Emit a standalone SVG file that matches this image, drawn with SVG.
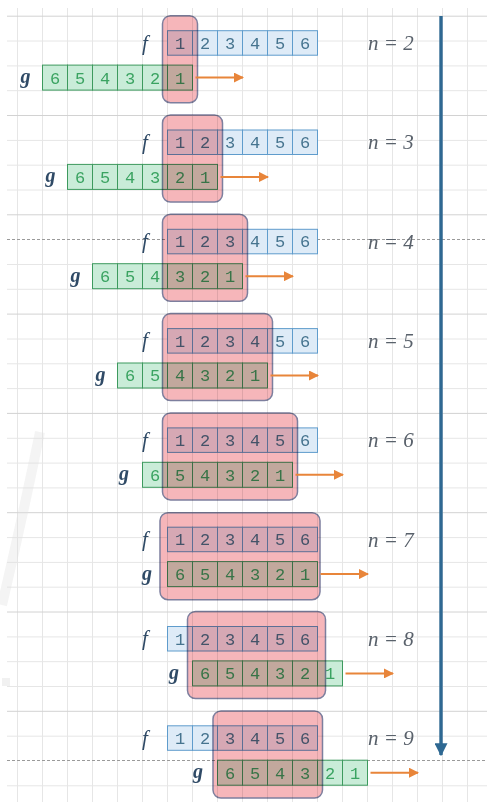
<svg xmlns="http://www.w3.org/2000/svg" width="487" height="802" viewBox="0 0 487 802">
<defs>
<style>
.gl{stroke:#e6e6e6;stroke-width:1}
.gd{stroke:#d2d2d2;stroke-width:1}
.dash{stroke:#9a9a9a;stroke-width:1;stroke-dasharray:3 2}
.fc{fill:#deebf7;stroke:#5f9ccc;stroke-width:1}
.gc{fill:#c9ecd8;stroke:#3d9a5e;stroke-width:1}
.ft{font-family:"Liberation Mono","DejaVu Sans Mono",monospace;font-size:17px;fill:#46748f;text-anchor:middle}
.gt{font-family:"Liberation Mono","DejaVu Sans Mono",monospace;font-size:17px;fill:#3aa361;text-anchor:middle}
.box{fill:#f6b6ba;stroke:#7d7f9e;stroke-width:1.5;mix-blend-mode:multiply}
.lf{font-family:"Liberation Serif","DejaVu Serif",serif;font-style:italic;font-size:21px;fill:#2f4a66;text-anchor:middle}
.lg{font-family:"Liberation Serif","DejaVu Serif",serif;font-style:italic;font-weight:bold;font-size:20px;fill:#2f4a66;text-anchor:middle}
.ln{font-family:"Liberation Serif","DejaVu Serif",serif;font-style:italic;font-size:21px;fill:#59616b}
.oa{stroke:#e8853a;stroke-width:2;fill:none}
</style>
<marker id="oh" viewBox="0 0 10 10" refX="9" refY="5" markerWidth="10" markerHeight="10" markerUnits="userSpaceOnUse" orient="auto"><path d="M0,0 L10,5 L0,10 z" fill="#e8853a"/></marker>
<marker id="bh" viewBox="0 0 10 10" refX="9" refY="5" markerWidth="13" markerHeight="13" markerUnits="userSpaceOnUse" orient="auto"><path d="M0,0 L10,5 L0,10 z" fill="#2e6892"/></marker>
</defs>
<rect x="0" y="0" width="487" height="802" fill="#ffffff"/>
<g id="grid">
<line class="gl" x1="17.5" y1="8" x2="17.5" y2="802"/><line class="gl" x1="42.5" y1="8" x2="42.5" y2="802"/><line class="gl" x1="67.5" y1="8" x2="67.5" y2="802"/><line class="gl" x1="92.5" y1="8" x2="92.5" y2="802"/><line class="gl" x1="117.5" y1="8" x2="117.5" y2="802"/><line class="gl" x1="142.5" y1="8" x2="142.5" y2="802"/><line class="gl" x1="167.5" y1="8" x2="167.5" y2="802"/><line class="gl" x1="192.5" y1="8" x2="192.5" y2="802"/><line class="gl" x1="217.5" y1="8" x2="217.5" y2="802"/><line class="gl" x1="242.5" y1="8" x2="242.5" y2="802"/><line class="gl" x1="267.5" y1="8" x2="267.5" y2="802"/><line class="gl" x1="292.5" y1="8" x2="292.5" y2="802"/><line class="gl" x1="317.5" y1="8" x2="317.5" y2="802"/><line class="gl" x1="342.5" y1="8" x2="342.5" y2="802"/><line class="gl" x1="367.5" y1="8" x2="367.5" y2="802"/><line class="gl" x1="392.5" y1="8" x2="392.5" y2="802"/><line class="gl" x1="417.5" y1="8" x2="417.5" y2="802"/><line class="gl" x1="442.5" y1="8" x2="442.5" y2="802"/><line class="gl" x1="467.5" y1="8" x2="467.5" y2="802"/>
<line class="gd" x1="7" y1="16.2" x2="487" y2="16.2"/><line class="gl" x1="7" y1="41" x2="487" y2="41"/><line class="gl" x1="7" y1="65.9" x2="487" y2="65.9"/><line class="gl" x1="7" y1="90.7" x2="487" y2="90.7"/>
<line class="gd" x1="7" y1="115.5" x2="487" y2="115.5"/><line class="gl" x1="7" y1="140.4" x2="487" y2="140.4"/><line class="gl" x1="7" y1="165.2" x2="487" y2="165.2"/><line class="gl" x1="7" y1="190" x2="487" y2="190"/>
<line class="gd" x1="7" y1="214.8" x2="487" y2="214.8"/><line class="dash" x1="7" y1="239.5" x2="487" y2="239.5"/><line class="gl" x1="7" y1="264.5" x2="487" y2="264.5"/><line class="gl" x1="7" y1="289.3" x2="487" y2="289.3"/>
<line class="gd" x1="7" y1="314.1" x2="487" y2="314.1"/><line class="gl" x1="7" y1="339" x2="487" y2="339"/><line class="gl" x1="7" y1="363.8" x2="487" y2="363.8"/><line class="gl" x1="7" y1="388.6" x2="487" y2="388.6"/>
<line class="gd" x1="7" y1="413.4" x2="487" y2="413.4"/><line class="gl" x1="7" y1="438.3" x2="487" y2="438.3"/><line class="gl" x1="7" y1="463.1" x2="487" y2="463.1"/><line class="gl" x1="7" y1="487.9" x2="487" y2="487.9"/>
<line class="gd" x1="7" y1="512.7" x2="487" y2="512.7"/><line class="gl" x1="7" y1="537.6" x2="487" y2="537.6"/><line class="gl" x1="7" y1="562.4" x2="487" y2="562.4"/><line class="gl" x1="7" y1="587.2" x2="487" y2="587.2"/>
<line class="gd" x1="7" y1="612" x2="487" y2="612"/><line class="gl" x1="7" y1="636.9" x2="487" y2="636.9"/><line class="gl" x1="7" y1="661.7" x2="487" y2="661.7"/><line class="gl" x1="7" y1="686.5" x2="487" y2="686.5"/>
<line class="gd" x1="7" y1="711.3" x2="487" y2="711.3"/><line class="gl" x1="7" y1="736.2" x2="487" y2="736.2"/><line class="dash" x1="7" y1="760.5" x2="487" y2="760.5"/><line class="gl" x1="7" y1="785.8" x2="487" y2="785.8"/>
</g>
<g id="watermark" opacity="0.35">
<path d="M40,432 Q22,520 2,605" stroke="#e0e0e0" stroke-width="10" fill="none"/>
<rect x="2" y="678" width="8" height="8" fill="#d8d8d8"/>
</g>

<g id="n2">
<g id="n2-f"><rect class="fc" x="167.5" y="30.7" width="25" height="24.5"/><rect class="fc" x="192.5" y="30.7" width="25" height="24.5"/><rect class="fc" x="217.5" y="30.7" width="25" height="24.5"/><rect class="fc" x="242.5" y="30.7" width="25" height="24.5"/><rect class="fc" x="267.5" y="30.7" width="25" height="24.5"/><rect class="fc" x="292.5" y="30.7" width="25" height="24.5"/>
<text class="ft" x="180" y="48.8">1</text><text class="ft" x="205" y="48.8">2</text><text class="ft" x="230" y="48.8">3</text><text class="ft" x="255" y="48.8">4</text><text class="ft" x="280" y="48.8">5</text><text class="ft" x="305" y="48.8">6</text></g>
<g id="n2-g"><rect class="gc" x="42.5" y="65.1" width="25" height="25"/><rect class="gc" x="67.5" y="65.1" width="25" height="25"/><rect class="gc" x="92.5" y="65.1" width="25" height="25"/><rect class="gc" x="117.5" y="65.1" width="25" height="25"/><rect class="gc" x="142.5" y="65.1" width="25" height="25"/><rect class="gc" x="167.5" y="65.1" width="25" height="25"/>
<text class="gt" x="55" y="83.5">6</text><text class="gt" x="80" y="83.5">5</text><text class="gt" x="105" y="83.5">4</text><text class="gt" x="130" y="83.5">3</text><text class="gt" x="155" y="83.5">2</text><text class="gt" x="180" y="83.5">1</text></g>
<rect id="n2-box" class="box" x="162.5" y="15.7" width="35" height="87" rx="8"/>
<text class="lf" x="145" y="49.5">f</text><text class="lg" x="25.5" y="83">g</text><text class="ln" x="368" y="50">n = 2</text>
</g>

<g id="n3">
<g id="n3-f"><rect class="fc" x="167.5" y="130" width="25" height="24.5"/><rect class="fc" x="192.5" y="130" width="25" height="24.5"/><rect class="fc" x="217.5" y="130" width="25" height="24.5"/><rect class="fc" x="242.5" y="130" width="25" height="24.5"/><rect class="fc" x="267.5" y="130" width="25" height="24.5"/><rect class="fc" x="292.5" y="130" width="25" height="24.5"/>
<text class="ft" x="180" y="148.1">1</text><text class="ft" x="205" y="148.1">2</text><text class="ft" x="230" y="148.1">3</text><text class="ft" x="255" y="148.1">4</text><text class="ft" x="280" y="148.1">5</text><text class="ft" x="305" y="148.1">6</text></g>
<g id="n3-g"><rect class="gc" x="67.5" y="164.4" width="25" height="25"/><rect class="gc" x="92.5" y="164.4" width="25" height="25"/><rect class="gc" x="117.5" y="164.4" width="25" height="25"/><rect class="gc" x="142.5" y="164.4" width="25" height="25"/><rect class="gc" x="167.5" y="164.4" width="25" height="25"/><rect class="gc" x="192.5" y="164.4" width="25" height="25"/>
<text class="gt" x="80" y="182.8">6</text><text class="gt" x="105" y="182.8">5</text><text class="gt" x="130" y="182.8">4</text><text class="gt" x="155" y="182.8">3</text><text class="gt" x="180" y="182.8">2</text><text class="gt" x="205" y="182.8">1</text></g>
<rect id="n3-box" class="box" x="162.5" y="115" width="60" height="87" rx="8"/>
<text class="lf" x="145" y="148.8">f</text><text class="lg" x="50.5" y="182.3">g</text><text class="ln" x="368" y="149.3">n = 3</text>
</g>

<g id="n4">
<g id="n4-f"><rect class="fc" x="167.5" y="229.3" width="25" height="24.5"/><rect class="fc" x="192.5" y="229.3" width="25" height="24.5"/><rect class="fc" x="217.5" y="229.3" width="25" height="24.5"/><rect class="fc" x="242.5" y="229.3" width="25" height="24.5"/><rect class="fc" x="267.5" y="229.3" width="25" height="24.5"/><rect class="fc" x="292.5" y="229.3" width="25" height="24.5"/>
<text class="ft" x="180" y="247.4">1</text><text class="ft" x="205" y="247.4">2</text><text class="ft" x="230" y="247.4">3</text><text class="ft" x="255" y="247.4">4</text><text class="ft" x="280" y="247.4">5</text><text class="ft" x="305" y="247.4">6</text></g>
<g id="n4-g"><rect class="gc" x="92.5" y="263.7" width="25" height="25"/><rect class="gc" x="117.5" y="263.7" width="25" height="25"/><rect class="gc" x="142.5" y="263.7" width="25" height="25"/><rect class="gc" x="167.5" y="263.7" width="25" height="25"/><rect class="gc" x="192.5" y="263.7" width="25" height="25"/><rect class="gc" x="217.5" y="263.7" width="25" height="25"/>
<text class="gt" x="105" y="282.1">6</text><text class="gt" x="130" y="282.1">5</text><text class="gt" x="155" y="282.1">4</text><text class="gt" x="180" y="282.1">3</text><text class="gt" x="205" y="282.1">2</text><text class="gt" x="230" y="282.1">1</text></g>
<rect id="n4-box" class="box" x="162.5" y="214.3" width="85" height="87" rx="8"/>
<text class="lf" x="145" y="248.1">f</text><text class="lg" x="75.5" y="281.6">g</text><text class="ln" x="368" y="248.6">n = 4</text>
</g>

<g id="n5">
<g id="n5-f"><rect class="fc" x="167.5" y="328.6" width="25" height="24.5"/><rect class="fc" x="192.5" y="328.6" width="25" height="24.5"/><rect class="fc" x="217.5" y="328.6" width="25" height="24.5"/><rect class="fc" x="242.5" y="328.6" width="25" height="24.5"/><rect class="fc" x="267.5" y="328.6" width="25" height="24.5"/><rect class="fc" x="292.5" y="328.6" width="25" height="24.5"/>
<text class="ft" x="180" y="346.7">1</text><text class="ft" x="205" y="346.7">2</text><text class="ft" x="230" y="346.7">3</text><text class="ft" x="255" y="346.7">4</text><text class="ft" x="280" y="346.7">5</text><text class="ft" x="305" y="346.7">6</text></g>
<g id="n5-g"><rect class="gc" x="117.5" y="363" width="25" height="25"/><rect class="gc" x="142.5" y="363" width="25" height="25"/><rect class="gc" x="167.5" y="363" width="25" height="25"/><rect class="gc" x="192.5" y="363" width="25" height="25"/><rect class="gc" x="217.5" y="363" width="25" height="25"/><rect class="gc" x="242.5" y="363" width="25" height="25"/>
<text class="gt" x="130" y="381.4">6</text><text class="gt" x="155" y="381.4">5</text><text class="gt" x="180" y="381.4">4</text><text class="gt" x="205" y="381.4">3</text><text class="gt" x="230" y="381.4">2</text><text class="gt" x="255" y="381.4">1</text></g>
<rect id="n5-box" class="box" x="162.5" y="313.6" width="110" height="87" rx="8"/>
<text class="lf" x="145" y="347.4">f</text><text class="lg" x="100.5" y="380.9">g</text><text class="ln" x="368" y="347.9">n = 5</text>
</g>

<g id="n6">
<g id="n6-f"><rect class="fc" x="167.5" y="427.9" width="25" height="24.5"/><rect class="fc" x="192.5" y="427.9" width="25" height="24.5"/><rect class="fc" x="217.5" y="427.9" width="25" height="24.5"/><rect class="fc" x="242.5" y="427.9" width="25" height="24.5"/><rect class="fc" x="267.5" y="427.9" width="25" height="24.5"/><rect class="fc" x="292.5" y="427.9" width="25" height="24.5"/>
<text class="ft" x="180" y="446">1</text><text class="ft" x="205" y="446">2</text><text class="ft" x="230" y="446">3</text><text class="ft" x="255" y="446">4</text><text class="ft" x="280" y="446">5</text><text class="ft" x="305" y="446">6</text></g>
<g id="n6-g"><rect class="gc" x="142.5" y="462.3" width="25" height="25"/><rect class="gc" x="167.5" y="462.3" width="25" height="25"/><rect class="gc" x="192.5" y="462.3" width="25" height="25"/><rect class="gc" x="217.5" y="462.3" width="25" height="25"/><rect class="gc" x="242.5" y="462.3" width="25" height="25"/><rect class="gc" x="267.5" y="462.3" width="25" height="25"/>
<text class="gt" x="155" y="480.7">6</text><text class="gt" x="180" y="480.7">5</text><text class="gt" x="205" y="480.7">4</text><text class="gt" x="230" y="480.7">3</text><text class="gt" x="255" y="480.7">2</text><text class="gt" x="280" y="480.7">1</text></g>
<rect id="n6-box" class="box" x="162.5" y="412.9" width="135" height="87" rx="8"/>
<text class="lf" x="145" y="446.7">f</text><text class="lg" x="124" y="480.2">g</text><text class="ln" x="368" y="447.2">n = 6</text>
</g>

<g id="n7">
<g id="n7-f"><rect class="fc" x="167.5" y="527.2" width="25" height="24.5"/><rect class="fc" x="192.5" y="527.2" width="25" height="24.5"/><rect class="fc" x="217.5" y="527.2" width="25" height="24.5"/><rect class="fc" x="242.5" y="527.2" width="25" height="24.5"/><rect class="fc" x="267.5" y="527.2" width="25" height="24.5"/><rect class="fc" x="292.5" y="527.2" width="25" height="24.5"/>
<text class="ft" x="180" y="545.3">1</text><text class="ft" x="205" y="545.3">2</text><text class="ft" x="230" y="545.3">3</text><text class="ft" x="255" y="545.3">4</text><text class="ft" x="280" y="545.3">5</text><text class="ft" x="305" y="545.3">6</text></g>
<g id="n7-g"><rect class="gc" x="167.5" y="561.6" width="25" height="25"/><rect class="gc" x="192.5" y="561.6" width="25" height="25"/><rect class="gc" x="217.5" y="561.6" width="25" height="25"/><rect class="gc" x="242.5" y="561.6" width="25" height="25"/><rect class="gc" x="267.5" y="561.6" width="25" height="25"/><rect class="gc" x="292.5" y="561.6" width="25" height="25"/>
<text class="gt" x="180" y="580">6</text><text class="gt" x="205" y="580">5</text><text class="gt" x="230" y="580">4</text><text class="gt" x="255" y="580">3</text><text class="gt" x="280" y="580">2</text><text class="gt" x="305" y="580">1</text></g>
<rect id="n7-box" class="box" x="160" y="512.7" width="160" height="87" rx="8"/>
<text class="lf" x="145" y="546">f</text><text class="lg" x="147" y="579.5">g</text><text class="ln" x="368" y="546.5">n = 7</text>
</g>

<g id="n8">
<g id="n8-f"><rect class="fc" x="167.5" y="626.5" width="25" height="24.5"/><rect class="fc" x="192.5" y="626.5" width="25" height="24.5"/><rect class="fc" x="217.5" y="626.5" width="25" height="24.5"/><rect class="fc" x="242.5" y="626.5" width="25" height="24.5"/><rect class="fc" x="267.5" y="626.5" width="25" height="24.5"/><rect class="fc" x="292.5" y="626.5" width="25" height="24.5"/>
<text class="ft" x="180" y="644.6">1</text><text class="ft" x="205" y="644.6">2</text><text class="ft" x="230" y="644.6">3</text><text class="ft" x="255" y="644.6">4</text><text class="ft" x="280" y="644.6">5</text><text class="ft" x="305" y="644.6">6</text></g>
<g id="n8-g"><rect class="gc" x="192.5" y="660.9" width="25" height="25"/><rect class="gc" x="217.5" y="660.9" width="25" height="25"/><rect class="gc" x="242.5" y="660.9" width="25" height="25"/><rect class="gc" x="267.5" y="660.9" width="25" height="25"/><rect class="gc" x="292.5" y="660.9" width="25" height="25"/><rect class="gc" x="317.5" y="660.9" width="25" height="25"/>
<text class="gt" x="205" y="679.3">6</text><text class="gt" x="230" y="679.3">5</text><text class="gt" x="255" y="679.3">4</text><text class="gt" x="280" y="679.3">3</text><text class="gt" x="305" y="679.3">2</text><text class="gt" x="330" y="679.3">1</text></g>
<rect id="n8-box" class="box" x="187.5" y="611.5" width="138" height="87" rx="8"/>
<text class="lf" x="145" y="645.3">f</text><text class="lg" x="174" y="678.8">g</text><text class="ln" x="368" y="645.8">n = 8</text>
</g>

<g id="n9">
<g id="n9-f"><rect class="fc" x="167.5" y="725.8" width="25" height="24.5"/><rect class="fc" x="192.5" y="725.8" width="25" height="24.5"/><rect class="fc" x="217.5" y="725.8" width="25" height="24.5"/><rect class="fc" x="242.5" y="725.8" width="25" height="24.5"/><rect class="fc" x="267.5" y="725.8" width="25" height="24.5"/><rect class="fc" x="292.5" y="725.8" width="25" height="24.5"/>
<text class="ft" x="180" y="743.9">1</text><text class="ft" x="205" y="743.9">2</text><text class="ft" x="230" y="743.9">3</text><text class="ft" x="255" y="743.9">4</text><text class="ft" x="280" y="743.9">5</text><text class="ft" x="305" y="743.9">6</text></g>
<g id="n9-g"><rect class="gc" x="217.5" y="760.2" width="25" height="25"/><rect class="gc" x="242.5" y="760.2" width="25" height="25"/><rect class="gc" x="267.5" y="760.2" width="25" height="25"/><rect class="gc" x="292.5" y="760.2" width="25" height="25"/><rect class="gc" x="317.5" y="760.2" width="25" height="25"/><rect class="gc" x="342.5" y="760.2" width="25" height="25"/>
<text class="gt" x="230" y="778.6">6</text><text class="gt" x="255" y="778.6">5</text><text class="gt" x="280" y="778.6">4</text><text class="gt" x="305" y="778.6">3</text><text class="gt" x="330" y="778.6">2</text><text class="gt" x="355" y="778.6">1</text></g>
<rect id="n9-box" class="box" x="213" y="711" width="109.5" height="87" rx="8"/>
<text class="lf" x="145" y="744.6">f</text><text class="lg" x="198" y="778.1">g</text><text class="ln" x="368" y="745.1">n = 9</text>
</g>

<g id="connectors">
<line class="oa" x1="195.5" y1="77.6" x2="243" y2="77.6" marker-end="url(#oh)"/>
<line class="oa" x1="220.5" y1="176.9" x2="268" y2="176.9" marker-end="url(#oh)"/>
<line class="oa" x1="245.5" y1="276.2" x2="293" y2="276.2" marker-end="url(#oh)"/>
<line class="oa" x1="270.5" y1="375.5" x2="318" y2="375.5" marker-end="url(#oh)"/>
<line class="oa" x1="295.5" y1="474.8" x2="343" y2="474.8" marker-end="url(#oh)"/>
<line class="oa" x1="320.5" y1="574.1" x2="368" y2="574.1" marker-end="url(#oh)"/>
<line class="oa" x1="345.5" y1="673.4" x2="393" y2="673.4" marker-end="url(#oh)"/>
<line class="oa" x1="370.5" y1="772.7" x2="418" y2="772.7" marker-end="url(#oh)"/>
<line x1="441" y1="16" x2="441" y2="755" stroke="#2e6892" stroke-width="3.4" marker-end="url(#bh)"/>
</g>
</svg>
